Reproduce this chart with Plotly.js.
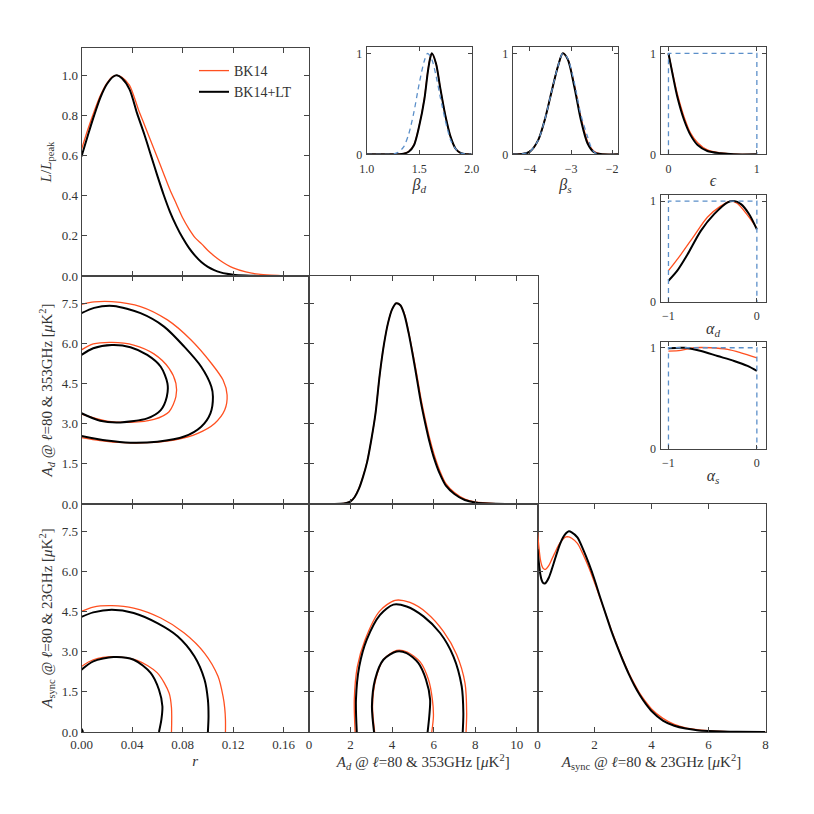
<!DOCTYPE html>
<html>
<head>
<meta charset="utf-8">
<script src="https://cdn.plot.ly/plotly-3.0.1.min.js"></script>
<style>html,body{margin:0;padding:0;background:#fff;}#plot{width:814px;height:814px;}</style>
</head>
<body>
<div id="plot"></div>
<script>
// ---------------- DATA ----------------
// r 1D
const r_x_bk14 = [0, 0.005, 0.01, 0.015, 0.02, 0.025, 0.028, 0.032, 0.038, 0.045, 0.05, 0.055, 0.06, 0.065, 0.07, 0.075, 0.08, 0.085, 0.09, 0.095, 0.1, 0.105, 0.11, 0.115, 0.12, 0.13, 0.14, 0.15, 0.16, 0.18];
const r_L_bk14 = [0.63, 0.73, 0.82, 0.90, 0.96, 0.995, 1.0, 0.99, 0.95, 0.83, 0.75, 0.67, 0.59, 0.51, 0.43, 0.36, 0.29, 0.235, 0.19, 0.16, 0.127, 0.10, 0.076, 0.056, 0.04, 0.02, 0.009, 0.004, 0.001, 0];
const r_x_lt = [0, 0.005, 0.01, 0.015, 0.02, 0.025, 0.028, 0.032, 0.038, 0.044, 0.05, 0.055, 0.06, 0.065, 0.07, 0.075, 0.08, 0.085, 0.09, 0.095, 0.1, 0.105, 0.11, 0.115, 0.12, 0.13, 0.14, 0.18];
const r_L_lt = [0.595, 0.70, 0.80, 0.89, 0.955, 0.993, 1.0, 0.985, 0.93, 0.81, 0.70, 0.60, 0.50, 0.405, 0.32, 0.25, 0.19, 0.14, 0.10, 0.068, 0.045, 0.029, 0.018, 0.011, 0.006, 0.002, 0.0005, 0];

// A_d 1D
const ad_x = [0, 1, 1.5, 1.8, 2.0, 2.2, 2.4, 2.6, 2.8, 3.0, 3.2, 3.4, 3.6, 3.8, 4.0, 4.2, 4.4, 4.6, 4.8, 5.0, 5.2, 5.4, 5.6, 5.8, 6.0, 6.3, 6.6, 7.0, 7.5, 8.0, 9.0, 10, 11];
const ad_L_lt = [0, 0, 0.001, 0.005, 0.013, 0.035, 0.075, 0.135, 0.21, 0.32, 0.45, 0.64, 0.79, 0.90, 0.97, 1.0, 0.99, 0.94, 0.85, 0.74, 0.62, 0.50, 0.40, 0.31, 0.235, 0.15, 0.09, 0.05, 0.02, 0.008, 0.001, 0, 0];
const ad_L_bk14 = [0, 0, 0.001, 0.005, 0.013, 0.036, 0.077, 0.137, 0.212, 0.32, 0.45, 0.64, 0.79, 0.90, 0.97, 1.0, 0.99, 0.945, 0.855, 0.75, 0.64, 0.52, 0.42, 0.33, 0.255, 0.165, 0.10, 0.057, 0.024, 0.010, 0.002, 0, 0];

// A_sync 1D
const as_x = [0, 0.05, 0.1, 0.15, 0.2, 0.25, 0.3, 0.4, 0.5, 0.6, 0.7, 0.8, 0.9, 1.0, 1.1, 1.2, 1.4, 1.6, 1.8, 2.0, 2.2, 2.4, 2.6, 2.8, 3.0, 3.2, 3.4, 3.6, 3.8, 4.0, 4.4, 4.8, 5.2, 5.6, 6.0, 6.5, 7.0, 8.0];
const as_L_lt = [0.91, 0.84, 0.785, 0.755, 0.742, 0.74, 0.745, 0.77, 0.81, 0.855, 0.90, 0.94, 0.97, 0.99, 1.0, 0.995, 0.97, 0.91, 0.84, 0.76, 0.67, 0.585, 0.50, 0.425, 0.355, 0.29, 0.232, 0.182, 0.14, 0.105, 0.057, 0.031, 0.017, 0.009, 0.005, 0.002, 0.001, 0];
const as_L_bk14 = [1.0, 0.92, 0.86, 0.83, 0.815, 0.81, 0.812, 0.83, 0.86, 0.89, 0.92, 0.945, 0.962, 0.972, 0.972, 0.965, 0.94, 0.885, 0.82, 0.745, 0.665, 0.585, 0.505, 0.43, 0.36, 0.295, 0.24, 0.19, 0.15, 0.115, 0.068, 0.038, 0.021, 0.012, 0.007, 0.003, 0.0015, 0];

// r vs A_d contours
const rAd_lt_out_r = [0, 0.01, 0.0253, 0.0467, 0.0653, 0.0813, 0.0947, 0.1027, 0.104, 0.102, 0.0947, 0.0813, 0.06, 0.0387, 0.02, 0];
const rAd_lt_out_a = [7.13, 7.33, 7.40, 7.13, 6.63, 5.88, 5.13, 4.39, 4.01, 3.39, 2.89, 2.52, 2.33, 2.29, 2.37, 2.54];
const rAd_bk_out_r = [0, 0.01, 0.024, 0.0467, 0.068, 0.0867, 0.1027, 0.112, 0.1152, 0.1133, 0.1053, 0.092, 0.0733, 0.052, 0.0333, 0.0147, 0];
const rAd_bk_out_a = [7.46, 7.55, 7.56, 7.38, 6.88, 6.13, 5.26, 4.63, 4.07, 3.51, 3.01, 2.64, 2.39, 2.29, 2.29, 2.37, 2.48];
const rAd_lt_in_r = [0, 0.0093, 0.024, 0.0387, 0.052, 0.0627, 0.068, 0.0675, 0.0627, 0.052, 0.0307, 0.0147, 0];
const rAd_lt_in_a = [5.57, 5.82, 5.94, 5.86, 5.57, 5.13, 4.51, 4.01, 3.51, 3.20, 3.05, 3.11, 3.39];
const rAd_bk_in_r = [0, 0.0093, 0.024, 0.0413, 0.0573, 0.0693, 0.0747, 0.0747, 0.0693, 0.0573, 0.0387, 0.02, 0];
const rAd_bk_in_a = [5.76, 5.98, 6.04, 5.94, 5.61, 5.07, 4.51, 4.01, 3.45, 3.16, 3.05, 3.10, 3.36];

// r vs A_sync contours
const rAs_lt_out_r = [0, 0.0093, 0.024, 0.0413, 0.06, 0.076, 0.0893, 0.0973, 0.1, 0.1005, 0.1];
const rAs_lt_out_a = [4.30, 4.47, 4.57, 4.45, 4.07, 3.58, 2.83, 1.96, 1.21, 0.59, 0];
const rAs_bk_out_r = [0, 0.0093, 0.024, 0.0413, 0.0627, 0.0813, 0.0973, 0.108, 0.112, 0.1133, 0.1139, 0.1139];
const rAs_bk_out_a = [4.51, 4.67, 4.72, 4.63, 4.26, 3.70, 2.95, 2.08, 1.33, 0.90, 0.46, 0];
const rAs_lt_in_r = [0, 0.0093, 0.0253, 0.0413, 0.0547, 0.0613, 0.064, 0.0632, 0.0613];
const rAs_lt_in_a = [2.33, 2.64, 2.80, 2.70, 2.21, 1.58, 0.96, 0.46, 0];
const rAs_bk_in_r = [0, 0.0093, 0.0253, 0.044, 0.06, 0.0693, 0.0712, 0.0712];
const rAs_bk_in_a = [2.45, 2.70, 2.82, 2.68, 2.21, 1.46, 0.90, 0];
const rAs_lt_dot_r = [0, 0.0013];
const rAs_lt_dot_a = [0.12, 0];

// A_d vs A_sync contours
const adAs_lt_out_d = [2.30, 2.26, 2.42, 2.78, 3.42, 4.06, 4.70, 5.51, 6.31, 6.95, 7.35, 7.43, 7.40];
const adAs_lt_out_s = [0, 1.21, 2.45, 3.45, 4.38, 4.76, 4.69, 4.32, 3.70, 2.83, 1.71, 0.71, 0];
const adAs_bk_out_d = [2.22, 2.18, 2.33, 2.70, 3.39, 4.14, 4.86, 5.67, 6.47, 7.11, 7.51, 7.59, 7.56];
const adAs_bk_out_s = [0, 1.21, 2.45, 3.45, 4.51, 4.92, 4.84, 4.45, 3.76, 2.89, 1.83, 0.71, 0];
const adAs_lt_in_d = [3.13, 3.03, 3.18, 3.58, 4.22, 4.70, 5.26, 5.63, 5.83, 5.79, 5.71];
const adAs_lt_in_s = [0, 0.96, 1.96, 2.70, 3.01, 2.95, 2.58, 1.96, 1.21, 0.59, 0];
const adAs_bk_in_d = [3.16, 3.06, 3.21, 3.61, 4.22, 4.73, 5.35, 5.75, 5.94, 5.99, 5.91];
const adAs_bk_in_s = [0, 0.96, 1.96, 2.73, 3.05, 2.99, 2.62, 1.96, 1.21, 0.59, 0];

// beta_d inset
const bd_x = [1.0, 1.3, 1.35, 1.4, 1.45, 1.5, 1.55, 1.58, 1.60, 1.62, 1.66, 1.70, 1.75, 1.8, 1.85, 1.9, 1.95, 2.0];
const bd_lt = [0, 0.001, 0.005, 0.025, 0.09, 0.28, 0.55, 0.80, 0.93, 1.0, 0.9, 0.66, 0.38, 0.17, 0.05, 0.01, 0.001, 0];
const bd_bk = [0, 0.001, 0.006, 0.027, 0.095, 0.285, 0.56, 0.81, 0.935, 1.0, 0.9, 0.66, 0.38, 0.17, 0.05, 0.01, 0.001, 0];
const bd_prior_x = [1.0, 1.25, 1.3, 1.35, 1.4, 1.45, 1.5, 1.55, 1.58, 1.62, 1.66, 1.7, 1.75, 1.8, 1.85, 1.9, 2.0];
const bd_prior = [0, 0.003, 0.02, 0.07, 0.2, 0.42, 0.7, 0.93, 1.0, 0.94, 0.78, 0.57, 0.33, 0.14, 0.05, 0.012, 0];

// beta_s inset
const bs_x = [-4.42, -4.2, -4.0, -3.8, -3.64, -3.48, -3.32, -3.2, -3.08, -2.92, -2.76, -2.6, -2.44, -2.28, -1.85];
const bs_lt = [0, 0.003, 0.027, 0.14, 0.34, 0.61, 0.87, 1.0, 0.94, 0.67, 0.34, 0.11, 0.02, 0.002, 0];
const bs_bk = [0, 0.003, 0.027, 0.14, 0.34, 0.61, 0.87, 1.0, 0.945, 0.69, 0.37, 0.13, 0.03, 0.004, 0];
const bs_prior_x = [-4.42, -4.2, -4.0, -3.8, -3.64, -3.48, -3.32, -3.2, -3.08, -2.92, -2.76, -2.6, -2.48, -2.36, -1.85];
const bs_prior = [0, 0.003, 0.027, 0.14, 0.34, 0.61, 0.87, 1.0, 0.95, 0.71, 0.39, 0.176, 0.043, 0.003, 0];

// epsilon inset
const ep_x = [0, 0.045, 0.1, 0.177, 0.25, 0.33, 0.44, 0.59, 0.74, 1.0];
const ep_lt = [1.0, 0.80, 0.57, 0.34, 0.19, 0.092, 0.033, 0.01, 0.0, 0];
const ep_bk = [1.0, 0.815, 0.60, 0.37, 0.21, 0.115, 0.043, 0.013, 0.002, 0];
const ep_prior_x = [0, 0, 1, 1];
const ep_prior = [0, 1, 1, 0];

// alpha_d inset
const ald_x_lt = [-1, -0.9, -0.785, -0.634, -0.483, -0.33, -0.26, -0.18, -0.087, 0];
const ald_lt = [0.21, 0.31, 0.47, 0.705, 0.87, 0.987, 1.0, 0.97, 0.87, 0.72];
const ald_x_bk = [-1, -0.86, -0.71, -0.56, -0.41, -0.30, -0.22, -0.106, 0];
const ald_bk = [0.31, 0.47, 0.656, 0.84, 0.95, 1.0, 0.975, 0.86, 0.73];
const ald_prior_x = [-1, -1, 0, 0];
const ald_prior = [0, 1, 1, 0];

// alpha_s inset
const als_x_lt = [-1, -0.82, -0.63, -0.445, -0.257, -0.106, 0];
const als_lt = [0.995, 1.0, 0.967, 0.918, 0.869, 0.82, 0.77];
const als_x_bk = [-1, -0.86, -0.71, -0.52, -0.33, -0.18, 0];
const als_bk = [0.967, 0.974, 1.0, 1.0, 0.984, 0.95, 0.90];
const als_prior_x = [-1, -1, 0, 0];
const als_prior = [0, 1, 1, 0];

// tick labels
const r_ticks = [0, 0.04, 0.08, 0.12, 0.16];
const ad_ticks = [0, 2, 4, 6, 8, 10];
const as_ticks = [0, 2, 4, 6, 8];
const amp_ticks = [0, 1.5, 3.0, 4.5, 6.0, 7.5];
const L_ticks = [0, 0.2, 0.4, 0.6, 0.8, 1.0];

// ---------------- STYLE ----------------
const RED = '#ff5020';
const BLACK = '#000000';
const BLUE = '#5b8fc9';
const SERIF = "'Liberation Serif', 'DejaVu Serif', serif";
const W = 814;

function px(a, b) { return [a / W, b / W]; }
function py(top, bottom) { return [1 - bottom / W, 1 - top / W]; }

function axis(o) {
  return Object.assign({
    showline: true, linecolor: '#444', linewidth: 1, mirror: 'ticks',
    ticks: 'inside', ticklen: 5, tickwidth: 1, tickcolor: '#444',
    showgrid: false, zeroline: false, fixedrange: true,
    tickfont: {family: SERIF, size: 13, color: '#333'}
  }, o);
}
function ttl(text, standoff, size) {
  return {text: text, font: {family: SERIF, size: size || 15, color: '#333'}, standoff: standoff};
}

const traces = [];
function line(x, y, xa, ya, color, width, opts) {
  traces.push(Object.assign({
    type: 'scatter', mode: 'lines', x: x, y: y, xaxis: xa, yaxis: ya,
    line: {color: color, width: width, shape: 'spline', smoothing: 0.8},
    showlegend: false, hoverinfo: 'skip'
  }, opts || {}));
}

// top-left r 1D
line(r_x_bk14, r_L_bk14, 'x', 'y', RED, 1.3, {name: 'BK14', showlegend: true});
line(r_x_lt, r_L_lt, 'x', 'y', BLACK, 2, {name: 'BK14+LT', showlegend: true});
// middle-left
line(rAd_bk_out_r, rAd_bk_out_a, 'x2', 'y2', RED, 1.3);
line(rAd_bk_in_r, rAd_bk_in_a, 'x2', 'y2', RED, 1.3);
line(rAd_lt_out_r, rAd_lt_out_a, 'x2', 'y2', BLACK, 2);
line(rAd_lt_in_r, rAd_lt_in_a, 'x2', 'y2', BLACK, 2);
// middle-middle A_d 1D
line(ad_x, ad_L_bk14, 'x3', 'y3', RED, 1.3);
line(ad_x, ad_L_lt, 'x3', 'y3', BLACK, 2);
// bottom-left
line(rAs_bk_out_r, rAs_bk_out_a, 'x4', 'y4', RED, 1.3);
line(rAs_bk_in_r, rAs_bk_in_a, 'x4', 'y4', RED, 1.3);
line(rAs_lt_out_r, rAs_lt_out_a, 'x4', 'y4', BLACK, 2);
line(rAs_lt_in_r, rAs_lt_in_a, 'x4', 'y4', BLACK, 2);
line(rAs_lt_dot_r, rAs_lt_dot_a, 'x4', 'y4', BLACK, 2);
// bottom-middle
line(adAs_bk_out_d, adAs_bk_out_s, 'x5', 'y5', RED, 1.3);
line(adAs_bk_in_d, adAs_bk_in_s, 'x5', 'y5', RED, 1.3);
line(adAs_lt_out_d, adAs_lt_out_s, 'x5', 'y5', BLACK, 2);
line(adAs_lt_in_d, adAs_lt_in_s, 'x5', 'y5', BLACK, 2);
// bottom-right
line(as_x, as_L_bk14, 'x6', 'y6', RED, 1.3);
line(as_x, as_L_lt, 'x6', 'y6', BLACK, 2);
// insets
line(bd_x, bd_bk, 'x7', 'y7', RED, 1.3);
line(bd_x, bd_lt, 'x7', 'y7', BLACK, 2);
line(bd_prior_x, bd_prior, 'x7', 'y7', BLUE, 1.3);
line(bs_x, bs_bk, 'x8', 'y8', RED, 1.3);
line(bs_x, bs_lt, 'x8', 'y8', BLACK, 2);
line(bs_prior_x, bs_prior, 'x8', 'y8', BLUE, 1.3);
line(ep_x, ep_bk, 'x9', 'y9', RED, 1.3);
line(ep_x, ep_lt, 'x9', 'y9', BLACK, 2);
line(ep_prior_x, ep_prior, 'x9', 'y9', BLUE, 1.3);
line(ald_x_bk, ald_bk, 'x10', 'y10', RED, 1.3);
line(ald_x_lt, ald_lt, 'x10', 'y10', BLACK, 2);
line(ald_prior_x, ald_prior, 'x10', 'y10', BLUE, 1.3);
line(als_x_bk, als_bk, 'x11', 'y11', RED, 1.3);
line(als_x_lt, als_lt, 'x11', 'y11', BLACK, 2);
line(als_prior_x, als_prior, 'x11', 'y11', BLUE, 1.3);
// dashed priors
traces.forEach(t => { if (t.line.color === BLUE) { t.line.dash = '5px,4px'; t.line.shape = (t.x.length === 4 ? 'linear' : 'spline'); } });

// domains
const C1 = px(81.5, 309), C2 = px(309, 537.5), C3 = px(537.5, 765.5);
const R1 = py(48, 276), R2 = py(276, 504), R3 = py(504, 732);
const IBD = px(366.7, 471.7), IBS = px(512.7, 618.3), IEP = px(660.5, 765.7);
const IR1 = py(47.3, 154.3), IR2 = py(195, 302), IR3 = py(341.7, 448.5);

const Lrange = [0, 1.136];
const Arange = [0, 8.52];
const Irange = [0, 1.06];
const Iy = {tickvals: [0, 1], ticktext: ['0', '1'], range: Irange, ticklen: 4, ticklabelstandoff: 1,
  tickfont: {family: SERIF, size: 12, color: '#333'}};
const Ixf = {family: SERIF, size: 12, color: '#333'};
const Ix = {ticklen: 4, tickfont: Ixf, ticklabelstandoff: 3};

const layout = {
  width: 814, height: 814,
  margin: {l: 0, r: 0, t: 0, b: 0},
  paper_bgcolor: '#fff', plot_bgcolor: '#fff',
  font: {family: SERIF, color: '#333'},
  showlegend: true,
  legend: {x: 194 / W, y: 1 - 55 / W, xanchor: 'left', yanchor: 'top',
    bgcolor: 'rgba(0,0,0,0)', font: {family: SERIF, size: 14, color: '#333'},
    tracegroupgap: 0},
  xaxis: axis({domain: C1, anchor: 'y', range: [0, 0.18], tickvals: r_ticks, showticklabels: false}),
  yaxis: axis({domain: R1, anchor: 'x', range: Lrange, tickvals: L_ticks, tickformat: '.1f',
    title: ttl('<i>L</i>/<i>L</i><sub>peak</sub>', 6)}),
  xaxis2: axis({domain: C1, anchor: 'y2', range: [0, 0.18], tickvals: r_ticks, showticklabels: false}),
  yaxis2: axis({domain: R2, anchor: 'x2', range: Arange, tickvals: amp_ticks, tickformat: '.1f',
    title: ttl('<i>A<sub>d</sub></i> @ <i>ℓ</i>=80 &amp; 353GHz [<i>μ</i>K<sup>2</sup>]', 5)}),
  xaxis3: axis({domain: C2, anchor: 'y3', range: [0, 11], tickvals: ad_ticks, showticklabels: false}),
  yaxis3: axis({domain: R2, anchor: 'x3', range: Lrange, tickvals: L_ticks, showticklabels: false}),
  xaxis4: axis({domain: C1, anchor: 'y4', range: [0, 0.18], tickvals: r_ticks, tickformat: '.2f',
    title: ttl('<i>r</i>', 4)}),
  yaxis4: axis({domain: R3, anchor: 'x4', range: Arange, tickvals: amp_ticks, tickformat: '.1f',
    title: ttl('<i>A</i><sub>sync</sub> @ <i>ℓ</i>=80 &amp; 23GHz [<i>μ</i>K<sup>2</sup>]', 5)}),
  xaxis5: axis({domain: C2, anchor: 'y5', range: [0, 11], tickvals: ad_ticks, tickformat: 'd',
    title: ttl('<i>A<sub>d</sub></i> @ <i>ℓ</i>=80 &amp; 353GHz [<i>μ</i>K<sup>2</sup>]', 4)}),
  yaxis5: axis({domain: R3, anchor: 'x5', range: Arange, tickvals: amp_ticks, showticklabels: false}),
  xaxis6: axis({domain: C3, anchor: 'y6', range: [0, 8], tickvals: as_ticks, tickformat: 'd',
    title: ttl('<i>A</i><sub>sync</sub> @ <i>ℓ</i>=80 &amp; 23GHz [<i>μ</i>K<sup>2</sup>]', 4)}),
  yaxis6: axis({domain: R3, anchor: 'x6', range: Lrange, tickvals: L_ticks, showticklabels: false}),
  xaxis7: axis(Object.assign({domain: IBD, anchor: 'y7', range: [1.0, 2.0], tickvals: [1.0, 1.5, 2.0], tickformat: '.1f',
    title: ttl('<i>β<sub>d</sub></i>', 0, 16)}, Ix)),
  yaxis7: axis(Object.assign({domain: IR1, anchor: 'x7'}, Iy)),
  xaxis8: axis(Object.assign({domain: IBS, anchor: 'y8', range: [-4.42, -1.85], tickvals: [-4, -3, -2], tickformat: 'd',
    title: ttl('<i>β<sub>s</sub></i>', 0, 16)}, Ix)),
  yaxis8: axis(Object.assign({domain: IR1, anchor: 'x8'}, Iy)),
  xaxis9: axis(Object.assign({domain: IEP, anchor: 'y9', range: [-0.09, 1.10], tickvals: [0, 1], tickformat: 'd',
    title: ttl('<i>ϵ</i>', 0, 16)}, Ix)),
  yaxis9: axis(Object.assign({domain: IR1, anchor: 'x9'}, Iy)),
  xaxis10: axis(Object.assign({domain: IEP, anchor: 'y10', range: [-1.09, 0.10], tickvals: [-1, 0], tickformat: 'd',
    title: ttl('<i>α<sub>d</sub></i>', 0, 16)}, Ix)),
  yaxis10: axis(Object.assign({domain: IR2, anchor: 'x10'}, Iy)),
  xaxis11: axis(Object.assign({domain: IEP, anchor: 'y11', range: [-1.09, 0.10], tickvals: [-1, 0], tickformat: 'd',
    title: ttl('<i>α<sub>s</sub></i>', 0, 16)}, Ix)),
  yaxis11: axis(Object.assign({domain: IR3, anchor: 'x11'}, Iy))
};

Plotly.newPlot('plot', traces, layout, {staticPlot: true, displayModeBar: false});
</script>
</body>
</html>
